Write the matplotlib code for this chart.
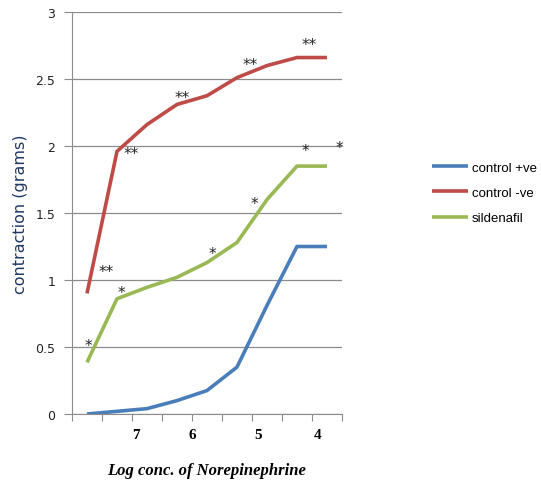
import numpy as np
import matplotlib
matplotlib.use("Agg")
from matplotlib import pyplot as plt

# nine dose points along the x axis
idx = np.arange(9)
control_pos = [0.0, 0.02, 0.04, 0.10, 0.175, 0.35, 0.81, 1.25, 1.25]
control_neg = [0.90, 1.96, 2.16, 2.31, 2.375, 2.51, 2.60, 2.66, 2.66]
sildenafil = [0.385, 0.86, 0.945, 1.02, 1.13, 1.28, 1.60, 1.85, 1.85]

series_names = ["control +ve", "control -ve", "sildenafil"]
series_colors = ["#4A7EBB", "#BE4B48", "#98B954"]

# dose labels drawn under the axis
dose_labels = ["7", "6", "5", "4"]
dose_pos = [1.63, 3.5, 5.7, 7.7]

# significance marks: (x index, y value, text)
star_x = [1.46, 3.16, 5.43, 7.4, 7.27, 8.43, 5.57, 4.18, 0.63, 1.13, 0.06]
star_y = [1.955, 2.37, 2.62, 2.77, 1.975, 2.0, 1.58, 1.21, 1.07, 0.915, 0.52]
star_txt = ["**", "**", "**", "**", "*", "*", "*", "*", "**", "*", "*"]

fig = plt.figure(figsize=(5.41, 4.81), dpi=100)
ax = fig.add_axes([0.1331, 0.1372, 0.499, 0.8358])

for vals, name, col in zip([control_pos, control_neg, sildenafil], series_names, series_colors):
    ax.plot(idx, vals, color=col, lw=2.6, label=name, solid_capstyle="butt")

for sx, sy, st in zip(star_x, star_y, star_txt):
    ax.text(sx, sy - 0.01, st, ha="center", va="center", fontsize=11, color="#222222")

ax.set_xlim(-0.5, 8.5)
ax.set_ylim(0, 3)
ax.set_yticks(np.arange(0, 3.01, 0.5))
ax.set_yticklabels(["0", "0.5", "1", "1.5", "2", "2.5", "3"])
ax.set_xticks(np.arange(-0.5, 8.6, 1))
ax.set_xticklabels([])
ax.yaxis.grid(True, color="#8c8c8c", lw=0.9)
ax.set_axisbelow(True)
for s in ["top", "right"]:
    ax.spines[s].set_visible(False)
ax.spines["left"].set_color("#8c8c8c")
ax.spines["bottom"].set_color("#8c8c8c")
ax.tick_params(axis="y", length=6, color="#8c8c8c", labelsize=9, labelcolor="#222222", pad=6)
ax.tick_params(axis="x", length=5, color="#8c8c8c")

for lab, p in zip(dose_labels, dose_pos):
    ax.text(p, -0.155, lab, ha="center", va="center", fontsize=11, fontweight="bold",
            family="Liberation Serif", clip_on=False)

ax.set_xlabel("Log conc. of Norepinephrine", family="Liberation Serif", fontsize=12,
              fontweight="bold", style="italic", labelpad=26)
ax.set_ylabel("contraction (grams)", fontsize=11.5, color="#1F3864", labelpad=5)

ax.legend(loc="center left", bbox_to_anchor=(1.29, 0.55), frameon=False,
          prop={"family": "Liberation Sans", "size": 9.5},
          handlelength=2.7, handletextpad=0.3, labelspacing=1.0)

fig.savefig("out.png", dpi=100)
